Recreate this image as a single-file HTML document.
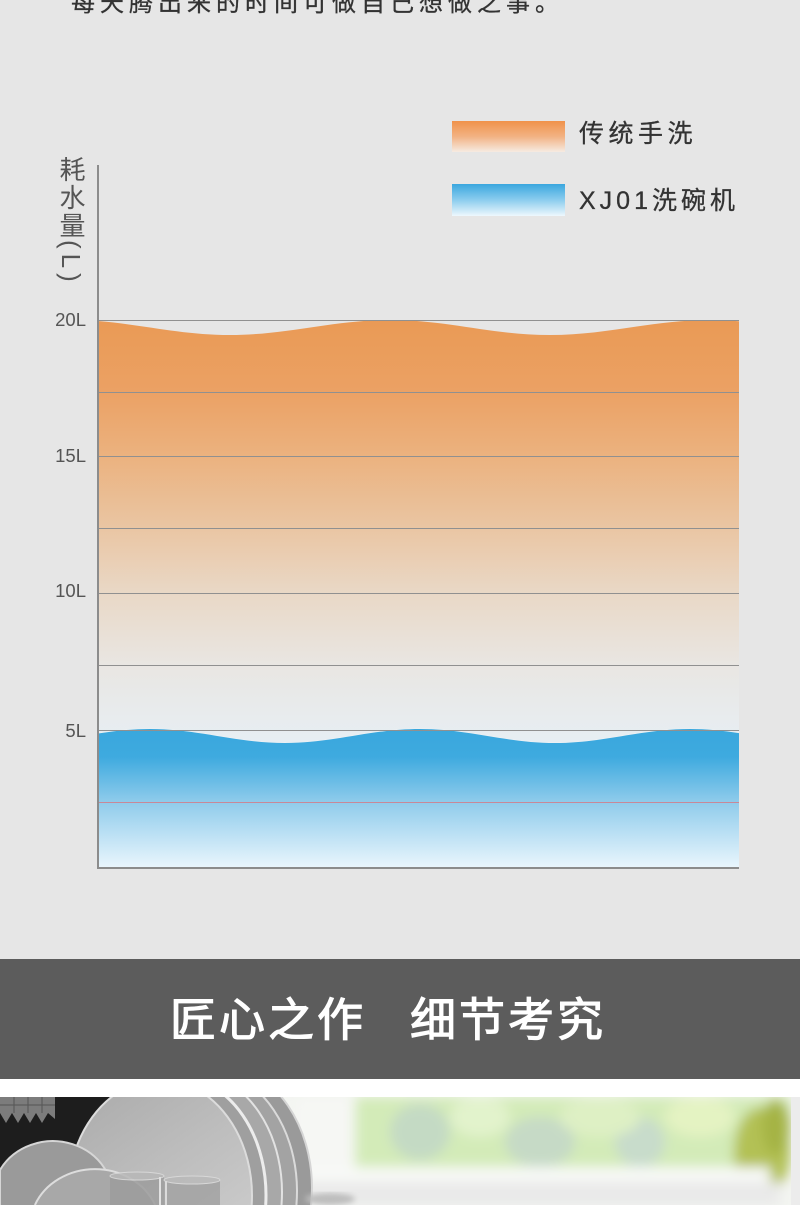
<!DOCTYPE html>
<html>
<head>
<meta charset="utf-8">
<style>
  html,body{margin:0;padding:0;overflow:hidden;}
  body{width:800px;height:1205px;position:relative;overflow:hidden;background:#e6e6e6;
       font-family:"Liberation Sans","Noto Sans CJK SC",sans-serif;}
  .abs{position:absolute;white-space:nowrap;}
  svg{overflow:hidden;}
  .top{left:71px;top:-8px;font-size:24px;line-height:24px;letter-spacing:5px;color:#333;-webkit-text-stroke:0.3px #333;}
  .leg{left:579px;font-size:25px;line-height:28px;letter-spacing:4.5px;color:#333;-webkit-text-stroke:0.3px #333;}
  .ylab{right:714px;font-size:18.5px;line-height:20px;color:#555;text-align:right;}
  .yt{left:57px;top:156px;writing-mode:vertical-rl;font-size:26px;line-height:28px;letter-spacing:2px;color:#555;}
  .yt span{letter-spacing:5px;}
  .band{left:0;top:959px;width:800px;height:120px;background:#5c5c5c;}
  .white{left:0;top:1079px;width:800px;height:18px;background:#ffffff;}
  .title{top:997px;font-size:46px;line-height:46px;letter-spacing:3px;color:#ffffff;-webkit-text-stroke:1.1px #ffffff;}
</style>
</head>
<body>

<div class="abs top">每天腾出来的时间可做自己想做之事。</div>

<svg class="abs" style="left:0;top:0" width="800" height="900" viewBox="0 0 800 900">
  <defs>
    <linearGradient id="og" x1="0" y1="320" x2="0" y2="740" gradientUnits="userSpaceOnUse">
      <stop offset="0" stop-color="#ea9a55"/>
      <stop offset="0.17" stop-color="#eba164"/>
      <stop offset="0.325" stop-color="#ebb27f"/>
      <stop offset="0.5" stop-color="#eac6a4"/>
      <stop offset="0.65" stop-color="#e9d8c6"/>
      <stop offset="0.82" stop-color="#e9e6e2"/>
      <stop offset="1" stop-color="#e7eef3"/>
    </linearGradient>
    <linearGradient id="bg" x1="0" y1="729" x2="0" y2="868" gradientUnits="userSpaceOnUse">
      <stop offset="0" stop-color="#39a7dd"/>
      <stop offset="0.2" stop-color="#3eaadf"/>
      <stop offset="0.52" stop-color="#8ecbeb"/>
      <stop offset="1" stop-color="#eaf6fd"/>
    </linearGradient>
    <linearGradient id="lo" x1="0" y1="0" x2="0" y2="1">
      <stop offset="0" stop-color="#f0924a"/>
      <stop offset="0.5" stop-color="#f2b283"/>
      <stop offset="1" stop-color="#f6ebe2"/>
    </linearGradient>
    <linearGradient id="lb" x1="0" y1="0" x2="0" y2="1">
      <stop offset="0" stop-color="#3aa7de"/>
      <stop offset="0.5" stop-color="#8ccdee"/>
      <stop offset="1" stop-color="#eef8fd"/>
    </linearGradient>
    <clipPath id="cp"><rect x="99" y="300" width="640" height="568"/></clipPath>
  </defs>

  <!-- legend -->
  <rect x="452" y="121" width="113" height="31" fill="url(#lo)"/>
  <rect x="452" y="184" width="113" height="32" fill="url(#lb)"/>

  <g clip-path="url(#cp)">
    <path d="M70,320 C128.3,320 171.7,335 230,335 C288.3,335 331.7,320 390,320 C448.3,320 491.7,335 550,335 C608.3,335 651.7,320 710,320 C723,320 737,321 750,322.2 L750,868 L70,868 Z" fill="url(#og)"/>
    <path d="M15,744 C64.2,744 100.8,730 150,730 C199.2,730 235.8,744 285,744 C334.2,744 370.8,730 420,730 C469.2,730 505.8,744 555,744 C604.2,744 640.8,730 690,730 C710,730 730,732.5 750,735.8" fill="none" stroke="#f2f4f5" stroke-width="3" opacity="0.7"/>
    <path d="M15,743 C64.2,743 100.8,729 150,729 C199.2,729 235.8,743 285,743 C334.2,743 370.8,729 420,729 C469.2,729 505.8,743 555,743 C604.2,743 640.8,729 690,729 C710,729 730,731.5 750,734.8 L750,868 L15,868 Z" fill="url(#bg)"/>
  </g>

  <!-- grid lines -->
  <g stroke="#909090" stroke-width="1">
    <line x1="99" y1="320.5" x2="739" y2="320.5"/>
    <line x1="99" y1="392.5" x2="739" y2="392.5"/>
    <line x1="99" y1="456.5" x2="739" y2="456.5"/>
    <line x1="99" y1="528.5" x2="739" y2="528.5"/>
    <line x1="99" y1="593.5" x2="739" y2="593.5"/>
    <line x1="99" y1="665.5" x2="739" y2="665.5"/>
    <line x1="99" y1="730.5" x2="739" y2="730.5"/>
  </g>
  <line x1="99" y1="802.5" x2="739" y2="802.5" stroke="#c98898" stroke-width="1"/>

  <!-- axes -->
  <line x1="98" y1="165" x2="98" y2="869" stroke="#8c8c8c" stroke-width="2"/>
  <line x1="97" y1="868" x2="739" y2="868" stroke="#8c8c8c" stroke-width="2"/>
</svg>

<div class="abs leg" style="top:120px;">传统手洗</div>
<div class="abs leg" style="top:187px;letter-spacing:4px;">XJ01洗碗机</div>

<div class="abs yt">耗水量<span>(L)</span></div>
<div class="abs ylab" style="top:310px;">20L</div>
<div class="abs ylab" style="top:446px;">15L</div>
<div class="abs ylab" style="top:581px;">10L</div>
<div class="abs ylab" style="top:721px;">5L</div>

<div class="abs band"></div>
<div class="abs title" style="left:170px;">匠心之作</div>
<div class="abs title" style="left:410px;">细节考究</div>
<div class="abs white"></div>

<!-- photo -->
<svg class="abs" style="left:0;top:1097px;display:block" width="800" height="108" viewBox="0 0 800 108">
  <defs>
    <filter id="b8" x="-20%" y="-50%" width="140%" height="200%"><feGaussianBlur stdDeviation="6"/></filter>
    <filter id="b3"><feGaussianBlur stdDeviation="3"/></filter>
    <linearGradient id="pf" x1="0" y1="0" x2="1" y2="1">
      <stop offset="0" stop-color="#a9a9a9"/>
      <stop offset="0.6" stop-color="#bdbdbd"/>
      <stop offset="1" stop-color="#c9c9c9"/>
    </linearGradient>
    <clipPath id="pc"><rect x="0" y="0" width="791" height="108"/></clipPath>
  </defs>
  <rect x="0" y="0" width="800" height="108" fill="#ececec"/>
  <g clip-path="url(#pc)">
    <rect x="0" y="0" width="791" height="108" fill="#f3f5f1"/>
    <!-- green blurred background -->
    <g filter="url(#b8)">
      <rect x="350" y="0" width="441" height="72" fill="#d3ebb8"/>
      <ellipse cx="420" cy="35" rx="30" ry="28" fill="#c4dac4"/>
      <ellipse cx="480" cy="20" rx="30" ry="20" fill="#e2f3cc"/>
      <ellipse cx="540" cy="45" rx="35" ry="25" fill="#c6dac6"/>
      <ellipse cx="640" cy="45" rx="25" ry="25" fill="#c8dccb"/>
      <ellipse cx="600" cy="20" rx="40" ry="20" fill="#def0c4"/>
      <ellipse cx="700" cy="20" rx="35" ry="20" fill="#e4f3c2"/>
      <ellipse cx="762" cy="55" rx="28" ry="45" fill="#b3c154"/>
      <ellipse cx="776" cy="30" rx="14" ry="28" fill="#a5b444"/>
      <rect x="295" y="0" width="60" height="80" fill="#f6f7f4"/>
      <rect x="300" y="70" width="470" height="15" fill="#f8f9f7"/>
      <rect x="300" y="85" width="480" height="23" fill="#e9e9e9"/>
    </g>
    <!-- dark back -->
    <rect x="0" y="0" width="170" height="80" fill="#1d1d1d"/>
    <!-- rack -->
    <g fill="#7c7c7c">
      <rect x="0" y="0" width="55" height="16"/>
      <polygon points="0,16 6,26 12,16 18,26 24,16 30,26 36,16 42,26 48,16 55,22 55,16"/>
    </g>
    <g stroke="#555" stroke-width="1">
      <line x1="14" y1="0" x2="14" y2="16"/><line x1="28" y1="0" x2="28" y2="16"/><line x1="42" y1="0" x2="42" y2="16"/>
      <line x1="0" y1="8" x2="55" y2="8"/>
    </g>
    <!-- plate stack (back to front), arcs truncated at y=108 -->
    <path d="M118.9,108 A97,125 0 1 1 311.1,108" fill="#9a9a9a" stroke="#d5d5d5" stroke-width="2"/>
    <path d="M113.6,108 A92,122 0 1 1 296.4,108" fill="#a3a3a3" stroke="#dadada" stroke-width="2"/>
    <path d="M102.5,108 A90,120 0 1 1 281.5,108" fill="#a8a8a8" stroke="#e2e2e2" stroke-width="2"/>
    <path d="M90.3,108 A88,118 0 1 1 265.7,108" fill="#9f9f9f" stroke="#ececec" stroke-width="3"/>
    <path d="M68.3,108 A92,116 0 1 1 251.7,108" fill="url(#pf)" stroke="#dcdcdc" stroke-width="2"/>
    <!-- lower-left plates -->
    <path d="M0,108 L0,72 A55,55 0 0 1 78.7,108" fill="#8e8e8e" stroke="#cfcfcf" stroke-width="2"/>
    <path d="M0,108 L0,73 A60,55 0 0 1 112,108" fill="#9a9a9a" stroke="#d6d6d6" stroke-width="2"/>
    <path d="M34.9,108 A65,58 0 0 1 155.1,108" fill="#a8a8a8" stroke="#dddddd" stroke-width="2"/>
    <!-- glasses -->
    <g opacity="0.85">
      <rect x="110" y="78" width="54" height="30" fill="#9d9d9d"/>
      <ellipse cx="137" cy="79" rx="27" ry="4" fill="#b8b8b8" stroke="#dcdcdc" stroke-width="1"/>
      <rect x="164" y="82" width="56" height="26" fill="#a3a3a3"/>
      <ellipse cx="192" cy="83" rx="28" ry="4" fill="#bababa" stroke="#dcdcdc" stroke-width="1"/>
      <line x1="160" y1="80" x2="160" y2="108" stroke="#e8e8e8" stroke-width="2"/>
      <line x1="166" y1="84" x2="166" y2="108" stroke="#e0e0e0" stroke-width="2"/>
    </g>
    <ellipse cx="330" cy="102" rx="25" ry="6" fill="#bdbdbd" filter="url(#b3)"/>
  </g>
</svg>

</body>
</html>
